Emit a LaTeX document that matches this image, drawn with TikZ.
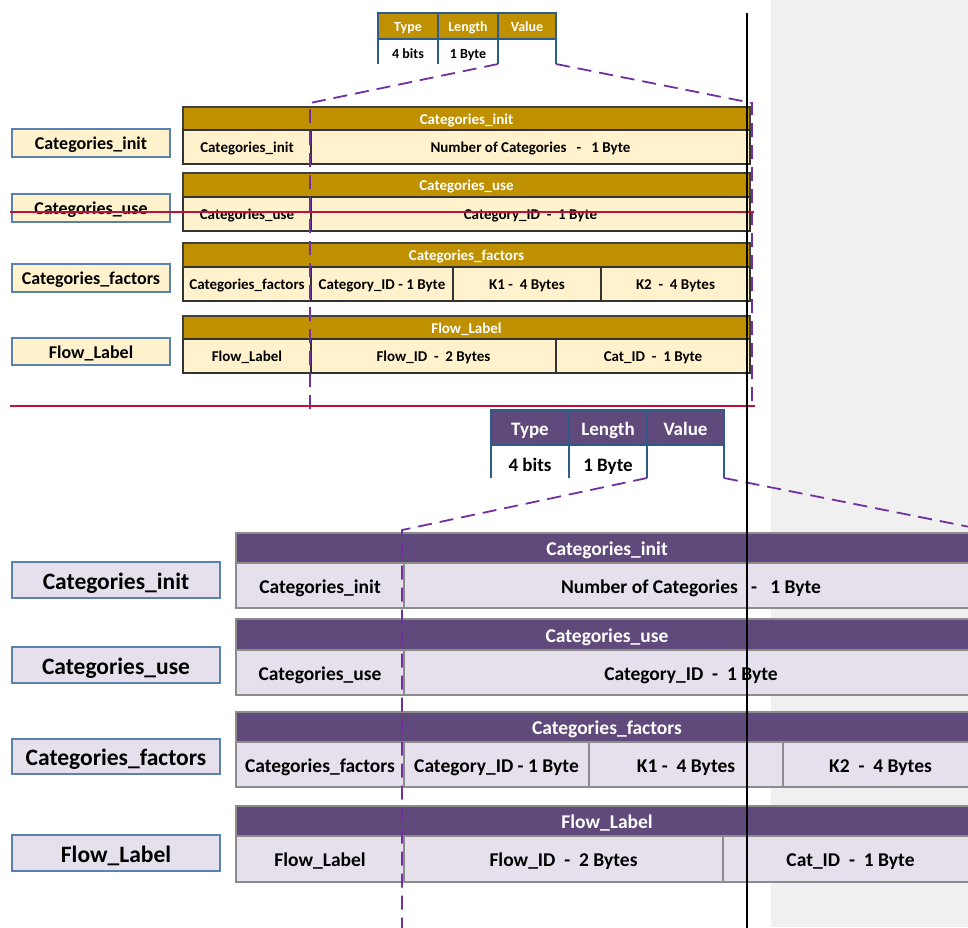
\documentclass[tikz,border=0pt]{standalone}
\usepackage{fontspec}
\setmainfont{Carlito}
\definecolor{gold}{HTML}{BF9000}
\definecolor{goldlt}{HTML}{FFF2CC}
\definecolor{purp}{HTML}{604A7B}
\definecolor{purplt}{HTML}{E5E0EC}
\definecolor{lblblue}{HTML}{5A82B0}
\definecolor{tlvblue}{HTML}{2E5C8A}
\definecolor{dashv}{HTML}{7030A0}
\definecolor{redl}{HTML}{C0103A}
\definecolor{bggray}{HTML}{F0F0F0}
\newcommand\cellbox[7]{\node[#6, minimum width={(#4-#2)*1pt}, minimum height={(#5-#3)*1pt}, anchor=north west] (#1) at (#2,#3) {#7};}
\tikzset{
  base/.style={inner sep=0pt, outer sep=0pt, font=\bfseries, text depth=0pt},
  ghead/.style={base, fill=gold, draw=black!75, line width=1.2pt, text=white, font=\bfseries\fontsize{15}{18}\selectfont, text height=11.5pt},
  gbody/.style={base, fill=goldlt, draw=black!80, line width=1.2pt, text=black, font=\bfseries\fontsize{15}{18}\selectfont, text height=11.5pt},
  glabel/.style={base, fill=goldlt, draw=lblblue, line width=1.2pt, font=\bfseries\fontsize{18}{21}\selectfont, text height=13.8pt},
  phead/.style={base, fill=purp, draw=black!45, line width=1.4pt, text=white, font=\bfseries\fontsize{19.5}{23}\selectfont, text height=15pt},
  pbody/.style={base, fill=purplt, draw=black!45, line width=1.4pt, text=black, font=\bfseries\fontsize{19.5}{23}\selectfont, text height=15pt},
  plabel/.style={base, fill=purplt, draw=lblblue, line width=1.5pt, font=\bfseries\fontsize{23.5}{27}\selectfont, text height=18pt},
  ttlvh/.style={base, fill=gold, draw=tlvblue, line width=1.2pt, text=white, font=\bfseries\fontsize{14}{17}\selectfont, text height=11pt},
  ttlvb/.style={base, font=\bfseries\fontsize{14}{17}\selectfont, text height=14pt},
  btlvh/.style={base, fill=purp, draw=tlvblue, line width=1.4pt, text=white, font=\bfseries\fontsize{19}{22}\selectfont, text height=15pt},
  btlvb/.style={base, font=\bfseries\fontsize{19}{22}\selectfont, text height=19pt},
  dashline/.style={dashv, line width=1.8pt, dash pattern=on 14pt off 8pt},
  redline/.style={redl, line width=2.2pt},
}
\begin{document}
\begin{tikzpicture}[x=1pt,y=-1pt]
\clip (0,0) rectangle (968,927);
\fill[white] (0,0) rectangle (968,927);
\fill[bggray] (771,0) rectangle (968,927);

% ---------- top TLV ----------
\cellbox{tT}{378}{13}{438}{39}{ttlvh}{Type}
\cellbox{tL}{438}{13}{498}{39}{ttlvh}{Length}
\cellbox{tV}{498}{13}{556}{39}{ttlvh}{Value}
\cellbox{tT2}{378}{39}{438}{64}{ttlvb}{4 bits}
\cellbox{tL2}{438}{39}{498}{64}{ttlvb}{1 Byte}
\cellbox{tV2}{498}{39}{556}{64}{ttlvb}{}
\draw[tlvblue, line width=1.2pt] (tT2.north west) -- (tT2.south west) (tL2.north west) -- (tL2.south west) (tV2.north west) -- (tV2.south west) (tV2.north east) -- (tV2.south east);

% ---------- top labels ----------
\cellbox{gl1}{12}{129}{170}{157}{glabel}{Categories\_init}
\cellbox{gl2}{12}{194}{170}{222}{glabel}{Categories\_use}
\cellbox{gl3}{12}{264}{170}{292}{glabel}{Categories\_factors}
\cellbox{gl4}{12}{338}{170}{365}{glabel}{Flow\_Label}

% ---------- top tables ----------
\cellbox{ga}{183}{107}{750}{130}{ghead}{Categories\_init}
\cellbox{ga1}{183}{130}{311}{164}{gbody}{Categories\_init}
\cellbox{ga2}{311}{130}{750}{164}{gbody}{Number of Categories~~~-~~~1 Byte}

\cellbox{gb}{183}{173}{750}{197}{ghead}{Categories\_use}
\cellbox{gb1}{183}{197}{311}{231}{gbody}{Categories\_use}
\cellbox{gb2}{311}{197}{750}{231}{gbody}{Category\_ID~~-~~1 Byte}

\cellbox{gc}{183}{243}{750}{267}{ghead}{Categories\_factors}
\cellbox{gc1}{183}{267}{311}{301}{gbody}{Categories\_factors}
\cellbox{gc2}{311}{267}{453}{301}{gbody}{Category\_ID - 1 Byte}
\cellbox{gc3}{453}{267}{601}{301}{gbody}{K1 -~~4 Bytes}
\cellbox{gc4}{601}{267}{750}{301}{gbody}{K2~~-~~4 Bytes}

\cellbox{gd}{183}{316}{750}{339}{ghead}{Flow\_Label}
\cellbox{gd1}{183}{339}{311}{373}{gbody}{Flow\_Label}
\cellbox{gd2}{311}{339}{556}{373}{gbody}{Flow\_ID~~-~~2 Bytes}
\cellbox{gd3}{556}{339}{750}{373}{gbody}{Cat\_ID~~-~~1 Byte}

% ---------- bottom TLV ----------
\cellbox{bT}{491}{410}{569}{445}{btlvh}{Type}
\cellbox{bL}{569}{410}{647}{445}{btlvh}{Length}
\cellbox{bV}{647}{410}{724}{445}{btlvh}{Value}
\cellbox{bT2}{491}{445}{569}{478}{btlvb}{4 bits}
\cellbox{bL2}{569}{445}{647}{478}{btlvb}{1 Byte}
\cellbox{bV2}{647}{445}{724}{478}{btlvb}{}
\draw[tlvblue, line width=1.4pt] (bT2.north west) -- (bT2.south west) (bL2.north west) -- (bL2.south west) (bV2.north west) -- (bV2.south west) (bV2.north east) -- (bV2.south east);

% ---------- bottom labels ----------
\cellbox{pl1}{12}{562}{220}{598}{plabel}{Categories\_init}
\cellbox{pl2}{12}{647}{220}{683}{plabel}{Categories\_use}
\cellbox{pl3}{12}{739}{220}{774}{plabel}{Categories\_factors}
\cellbox{pl4}{12}{835}{220}{871}{plabel}{Flow\_Label}

% ---------- bottom tables ----------
\cellbox{pa}{236}{533}{978}{563}{phead}{Categories\_init}
\cellbox{pa1}{236}{563}{404}{608}{pbody}{Categories\_init}
\cellbox{pa2}{404}{563}{978}{608}{pbody}{Number of Categories~~~-~~~1 Byte}

\cellbox{pb}{236}{619}{978}{650}{phead}{Categories\_use}
\cellbox{pb1}{236}{650}{404}{695}{pbody}{Categories\_use}
\cellbox{pb2}{404}{650}{978}{695}{pbody}{Category\_ID~~-~~1 Byte}

\cellbox{pc}{236}{712}{978}{742}{phead}{Categories\_factors}
\cellbox{pc1}{236}{742}{404}{787}{pbody}{Categories\_factors}
\cellbox{pc2}{404}{742}{589}{787}{pbody}{Category\_ID - 1 Byte}
\cellbox{pc3}{589}{742}{783}{787}{pbody}{K1 -~~4 Bytes}
\cellbox{pc4}{783}{742}{978}{787}{pbody}{K2~~-~~4 Bytes}

\cellbox{pd}{236}{806}{978}{836}{phead}{Flow\_Label}
\cellbox{pd1}{236}{836}{404}{882}{pbody}{Flow\_Label}
\cellbox{pd2}{404}{836}{723}{882}{pbody}{Flow\_ID~~-~~2 Bytes}
\cellbox{pd3}{723}{836}{978}{882}{pbody}{Cat\_ID~~-~~1 Byte}

% ---------- dashed zoom lines ----------
\coordinate (tcl) at (310,103);
\coordinate (tcl2) at (310,410);
\coordinate (tcr) at (752,103);
\coordinate (tcr2) at (752,408);
\draw[dashline] (tL2.south east) -- (tcl) -- (tcl2);
\draw[dashline] (tV2.south east) -- (tcr) -- (tcr2);
\coordinate (bcl) at (402,530);
\coordinate (bcl2) at (402,930);
\coordinate (bcr) at (980,529);
\draw[dashline] (bL2.south east) -- (bcl) -- (bcl2);
\draw[dashline] (bV2.south east) -- (bcr);

% ---------- red lines ----------
\coordinate (r1a) at (10,212);
\coordinate (r1b) at (754,212);
\coordinate (r2a) at (10,406);
\coordinate (r2b) at (755,406);
\draw[redline] (r1a) -- (r1b);
\draw[redline] (r2a) -- (r2b);

% ---------- black vertical line ----------
\coordinate (k1) at (747,13);
\coordinate (k2) at (747,930);
\draw[black, line width=2pt] (k1) -- (k2);
\end{tikzpicture}
\end{document}
